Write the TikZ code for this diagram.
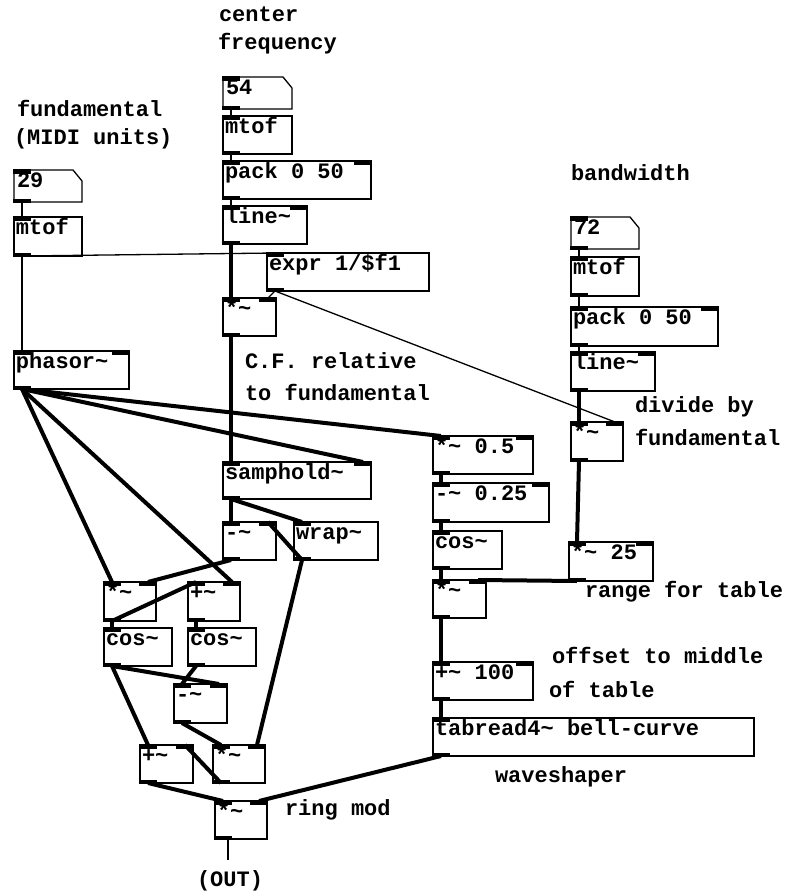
\documentclass[tikz,border=0pt]{standalone}
\usepackage{fontspec}
\newfontfamily\pdfont{Liberation Mono}
\newcommand{\tld}{\textasciitilde}
\tikzset{
  box/.style={draw, line width=1.3pt, inner sep=0pt, outer sep=0pt, anchor=north west},
  lbl/.style={anchor=base west, inner sep=0pt, outer sep=0pt, font=\pdfont\bfseries\fontsize{22}{26}\selectfont},
  sig/.style={line width=4pt},
  ctl/.style={line width=1.3pt},
}
% name, x, y, w, h, text, number of inlets
\newcommand{\pdobj}[7]{%
  \node[box, minimum width=#4pt, minimum height=#5pt] (#1) at (#2,#3) {};
  \node[lbl] (#1-t) at ([xshift=2pt,yshift=-17pt]#1.north west) {#6};
  \fill ([xshift=-0.65pt,yshift=0.65pt]#1.north west) rectangle ([xshift=17pt,yshift=-3.5pt]#1.north west);
  \fill ([xshift=-0.65pt,yshift=-0.65pt]#1.south west) rectangle ([xshift=17pt,yshift=3.5pt]#1.south west);
  \coordinate (#1-i) at ([xshift=8pt]#1.north west);
  \coordinate (#1-o) at ([xshift=8pt]#1.south west);
  \ifnum#7>1
    \fill ([xshift=0.65pt,yshift=0.65pt]#1.north east) rectangle ([xshift=-17pt,yshift=-3.5pt]#1.north east);
    \coordinate (#1-r) at ([xshift=-8pt]#1.north east);
  \fi
}
% name, x, y, w, text
\newcommand{\pdnum}[5]{%
  \node[inner sep=0pt, outer sep=0pt, anchor=north west, minimum width=#4pt, minimum height=32pt] (#1) at (#2,#3) {};
  \draw[line width=1.3pt] (#1.north west) -- ([xshift=-9pt]#1.north east) -- ([yshift=-11pt]#1.north east) -- (#1.south east) -- (#1.south west) -- cycle;
  \node[lbl] (#1-t) at ([xshift=3pt,yshift=-17pt]#1.north west) {#5};
  \fill ([xshift=-0.65pt,yshift=0.65pt]#1.north west) rectangle ([xshift=17pt,yshift=-3.5pt]#1.north west);
  \fill ([xshift=-0.65pt,yshift=-0.65pt]#1.south west) rectangle ([xshift=17pt,yshift=3.5pt]#1.south west);
  \coordinate (#1-i) at ([xshift=8pt]#1.north west);
  \coordinate (#1-o) at ([xshift=8pt]#1.south west);
}
\begin{document}
\begin{tikzpicture}[x=1pt,y=-1pt]
\fill[white] (0,0) rectangle (791,894);
\useasboundingbox (0,0) rectangle (791,894);

% comments
\node[lbl] (c-center) at (219,21) {center};
\node[lbl] (c-freq) at (218,49) {frequency};
\node[lbl] (c-fund) at (17,116) {fundamental};
\node[lbl] (c-midi) at (14,144) {(MIDI units)};
\node[lbl] (c-bw) at (571,180) {bandwidth};
\node[lbl] (c-cf1) at (245,368) {C.F. relative};
\node[lbl] (c-cf2) at (245,400) {to fundamental};
\node[lbl] (c-div1) at (635,412) {divide by};
\node[lbl] (c-div2) at (635,445) {fundamental};
\node[lbl] (c-range) at (585,597) {range for table};
\node[lbl] (c-off1) at (552,663) {offset to middle};
\node[lbl] (c-off2) at (549,697) {of table};
\node[lbl] (c-ws) at (495,782) {waveshaper};
\node[lbl] (c-ring) at (285,815) {ring mod};
\node[lbl] (c-out) at (197,886) {(OUT)};

% center column
\pdnum{n54}{223}{77}{69}{54}
\pdobj{mtofC}{223}{116}{69}{38}{mtof}{1}
\pdobj{packC}{223}{161}{148}{38}{pack 0 50}{2}
\pdobj{lineC}{223}{206}{84}{38}{line\tld}{2}
\pdobj{expr}{267}{253}{162}{38}{expr 1/\$f1}{1}
\pdobj{mulC}{223}{298}{53}{38}{*\tld}{2}

% left column
\pdnum{n29}{14}{170}{68}{29}
\pdobj{mtofL}{14}{217}{68}{39}{mtof}{1}
\pdobj{phasor}{14}{351}{115}{38}{phasor\tld}{2}
\pdobj{samphold}{223}{462}{148}{37}{samphold\tld}{2}
\pdobj{subC}{223}{522}{53}{38}{-\tld}{2}
\pdobj{wrap}{294}{522}{84}{38}{wrap\tld}{1}
\pdobj{mulL}{104}{582}{52}{39}{*\tld}{2}
\pdobj{addL}{188}{582}{52}{39}{+\tld}{2}
\pdobj{cosL}{104}{628}{68}{38}{cos\tld}{1}
\pdobj{cosR}{188}{628}{68}{38}{cos\tld}{1}
\pdobj{subL}{174}{684}{53}{39}{-\tld}{2}
\pdobj{addB}{140}{745}{53}{38}{+\tld}{2}
\pdobj{mulB}{213}{745}{52}{38}{*\tld}{2}
\pdobj{ring}{215}{801}{52}{38}{*\tld}{2}

% right column
\pdnum{n72}{571}{217}{68}{72}
\pdobj{mtofR}{571}{257}{68}{39}{mtof}{1}
\pdobj{packR}{571}{307}{147}{39}{pack 0 50}{2}
\pdobj{lineR}{571}{352}{84}{39}{line\tld}{2}
\pdobj{mulR}{571}{422}{52}{39}{*\tld}{2}
\pdobj{mul05}{433}{436}{100}{38}{*\tld{} 0.5}{2}
\pdobj{sub025}{433}{483}{116}{39}{-\tld{} 0.25}{2}
\pdobj{cosW}{433}{531}{69}{38}{cos\tld}{1}
\pdobj{mulW}{433}{580}{53}{38}{*\tld}{2}
\pdobj{mul25}{569}{542}{84}{39}{*\tld{} 25}{2}
\pdobj{add100}{433}{662}{100}{38}{+\tld{} 100}{2}
\pdobj{tab}{433}{718}{321}{38}{tabread4\tld{} bell-curve}{1}

% control connections
\draw[ctl] (n54-o) -- (mtofC-i);
\draw[ctl] (mtofC-o) -- (packC-i);
\draw[ctl] (packC-o) -- (lineC-i);
\draw[ctl] (n29-o) -- (mtofL-i);
\draw[ctl] (mtofL-o) -- (phasor-i);
\draw[ctl] (mtofL-o) -- (expr-i);
\draw[ctl] (expr-o) -- (mulC-r);
\draw[ctl] (expr-o) -- (mulR-r);
\draw[ctl] (n72-o) -- (mtofR-i);
\draw[ctl] (mtofR-o) -- (packR-i);
\draw[ctl] (packR-o) -- (lineR-i);
\coordinate (ring-out) at ([xshift=13pt]ring.south west);
\coordinate (outend) at (228,860);
\draw[ctl] (ring-out) -- (outend);

% signal connections
\draw[sig] (lineC-o) -- (mulC-i);
\draw[sig] (mulC-o) -- (samphold-i);
\draw[sig] (phasor-o) -- (samphold-r);
\draw[sig] (phasor-o) -- (mul05-i);
\draw[sig] (phasor-o) -- (mulL-i);
\draw[sig] (phasor-o) -- (addL-r);
\draw[sig] (samphold-o) -- (subC-i);
\draw[sig] (samphold-o) -- (wrap-i);
\draw[sig] (wrap-o) -- (subC-r);
\draw[sig] (wrap-o) -- (mulB-r);
\draw[sig] (subC-o) -- (mulL-r);
\draw[sig] (mulL-o) -- (addL-i);
\draw[sig] (mulL-o) -- (cosL-i);
\draw[sig] (addL-o) -- (cosR-i);
\draw[sig] (cosL-o) -- (subL-r);
\draw[sig] (cosR-o) -- (subL-i);
\draw[sig] (cosL-o) -- (addB-i);
\draw[sig] (subL-o) -- (mulB-i);
\draw[sig] (mulB-o) -- (addB-r);
\draw[sig] (addB-o) -- (ring-i);
\draw[sig] (tab-o) -- (ring-r);
\draw[sig] (mul05-o) -- (sub025-i);
\draw[sig] (sub025-o) -- (cosW-i);
\draw[sig] (cosW-o) -- (mulW-i);
\draw[sig] (mul25-o) -- (mulW-r);
\draw[sig] (mulW-o) -- (add100-i);
\draw[sig] (add100-o) -- (tab-i);
\draw[sig] (lineR-o) -- (mulR-i);
\draw[sig] (mulR-o) -- (mul25-i);
\end{tikzpicture}
\end{document}
